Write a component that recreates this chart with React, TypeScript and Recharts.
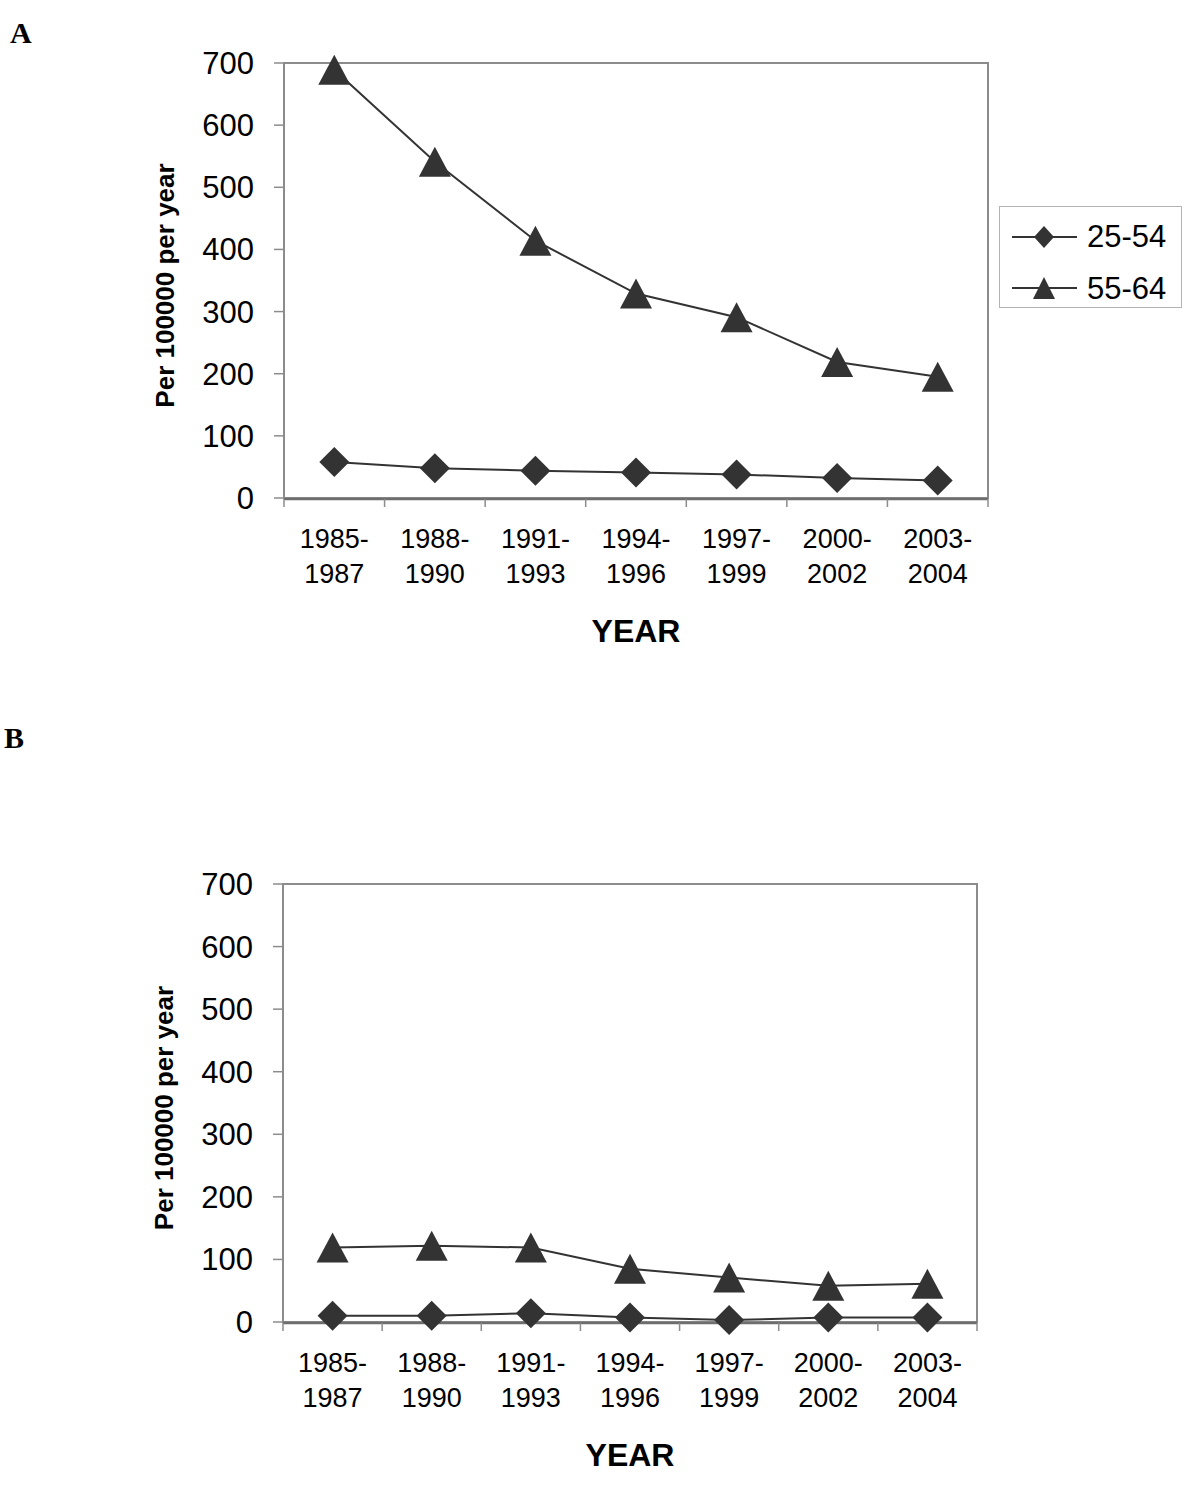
import React from "react";
import {
  LineChart,
  Line,
  XAxis,
  YAxis,
  Legend,
  ReferenceArea,
} from "recharts";

const periods = [
  "1985-1987",
  "1988-1990",
  "1991-1993",
  "1994-1996",
  "1997-1999",
  "2000-2002",
  "2003-2004",
];

const seriesNames = ["25-54", "55-64"];
const yTicks = [0, 100, 200, 300, 400, 500, 600, 700];
const edgeTicks = [0, 1, 2, 3, 4, 5, 6, 7];

// panel A
const a2554 = [58, 48, 44, 41, 38, 32, 28];
const a5564 = [689, 541, 414, 329, 291, 219, 195];

// panel B
const b2554 = [10, 10, 14, 7, 3, 7, 7];
const b5564 = [119, 122, 119, 85, 71, 58, 61];

const FONT = '"Liberation Sans", Arial, sans-serif';
const INK = "#333333";
const FRAME = "#8c8c8c";

function buildRows(young: number[], old: number[]) {
  return periods.map((p, i) => ({ period: p, young: young[i], old: old[i] }));
}

// slot centre of a row on the 0..7 edge axis
const slotOf = (row: { period: string }) => periods.indexOf(row.period) + 0.5;

function DiamondDot(props: any) {
  const { cx, cy } = props;
  if (cx == null || cy == null) return null;
  return (
    <polygon
      points={`${cx},${cy - 15} ${cx + 15},${cy} ${cx},${cy + 15} ${cx - 15},${cy}`}
      fill={INK}
    />
  );
}

function TriangleDot(props: any) {
  const { cx, cy } = props;
  if (cx == null || cy == null) return null;
  return (
    <polygon
      points={`${cx},${cy - 15} ${cx + 16},${cy + 15} ${cx - 16},${cy + 15}`}
      fill={INK}
    />
  );
}

function BlankTick() {
  return <g />;
}

function PeriodTick(props: any) {
  const { x, y, payload } = props;
  const [from, to] = String(payload.value).split("-");
  return (
    <text x={x} y={y} textAnchor="middle" fontFamily={FONT} fontSize={27} fill="#000">
      <tspan x={x} dy={50}>{from + "-"}</tspan>
      <tspan x={x} dy={35}>{to}</tspan>
    </text>
  );
}

function YTitle(props: any) {
  const { viewBox } = props;
  const x = viewBox.x + 20;
  const y = viewBox.y + viewBox.height / 2 + 5;
  return (
    <text
      x={x}
      y={y}
      transform={`rotate(-90 ${x} ${y})`}
      textAnchor="middle"
      fontFamily={FONT}
      fontWeight="bold"
      fontSize={26}
      fill="#000"
    >
      Per 100000 per year
    </text>
  );
}

function XTitle(props: any) {
  const { viewBox } = props;
  return (
    <text
      x={viewBox.x + viewBox.width / 2}
      y={viewBox.y + 144}
      textAnchor="middle"
      fontFamily={FONT}
      fontWeight="bold"
      fontSize={32}
      fill="#000"
    >
      YEAR
    </text>
  );
}

function LegendBox() {
  return (
    <div
      style={{
        width: 183,
        height: 102,
        border: "1px solid #b4b4b4",
        background: "#fff",
        boxSizing: "border-box",
      }}
    >
      <svg width={183} height={102}>
        <line x1={12} x2={77} y1={30} y2={30} stroke={INK} strokeWidth={2} />
        <polygon points="44,19 54,30 44,41 34,30" fill={INK} />
        <text x={87} y={40} fontFamily={FONT} fontSize={31} fill="#000">
          {seriesNames[0]}
        </text>
        <line x1={12} x2={77} y1={81} y2={81} stroke={INK} strokeWidth={2} />
        <polygon points="44,70 55,92 33,92" fill={INK} />
        <text x={87} y={92} fontFamily={FONT} fontSize={31} fill="#000">
          {seriesNames[1]}
        </text>
      </svg>
    </div>
  );
}

interface PanelProps {
  young: number[];
  old: number[];
  top: number;
  plotWidth: number;
  margin: { top: number; right: number; bottom: number; left: number };
  withLegend?: boolean;
}

function Panel({ young, old, top, plotWidth, margin, withLegend }: PanelProps) {
  const rows = buildRows(young, old);
  const pad = plotWidth / 14;
  return (
    <div style={{ position: "absolute", left: 0, top }}>
      <LineChart width={1200} height={700} data={rows} margin={margin}>
        <ReferenceArea
          xAxisId="edges"
          x1={0}
          x2={7}
          y1={0}
          y2={700}
          fill="none"
          stroke={FRAME}
          strokeWidth={2}
          ifOverflow="visible"
        />
        <XAxis
          dataKey="period"
          interval={0}
          height={1}
          padding={{ left: pad, right: pad }}
          tick={<PeriodTick />}
          tickLine={false}
          axisLine={false}
          tickSize={0}
          tickMargin={0}
          label={<XTitle />}
        />
        <XAxis
          xAxisId="edges"
          dataKey={slotOf}
          type="number"
          domain={[0, 7]}
          ticks={edgeTicks}
          interval={0}
          allowDataOverflow
          height={1}
          tick={<BlankTick />}
          tickSize={8}
          tickLine={{ stroke: FRAME, strokeWidth: 1.5 }}
          axisLine={{ stroke: "#6e6e6e", strokeWidth: 2.5 }}
        />
        <YAxis
          domain={[0, 700]}
          ticks={yTicks}
          width={130}
          tickSize={10}
          tickMargin={20}
          tick={{ fontFamily: FONT, fontSize: 31, fill: "#000" }}
          tickLine={{ stroke: FRAME, strokeWidth: 1.5 }}
          axisLine={{ stroke: FRAME, strokeWidth: 2 }}
          label={<YTitle />}
        />
        {withLegend && (
          <Legend
            layout="horizontal"
            verticalAlign="middle"
            content={() => <LegendBox />}
            wrapperStyle={{ left: 999, top: 206, width: 183 }}
          />
        )}
        <Line
          dataKey="young"
          name={seriesNames[0]}
          stroke={INK}
          strokeWidth={2}
          dot={<DiamondDot />}
          activeDot={false}
          isAnimationActive={false}
        />
        <Line
          dataKey="old"
          name={seriesNames[1]}
          stroke={INK}
          strokeWidth={2}
          dot={<TriangleDot />}
          activeDot={false}
          isAnimationActive={false}
        />
      </LineChart>
    </div>
  );
}

export default function App() {
  return (
    <div
      style={{
        position: "relative",
        width: 1200,
        height: 1486,
        background: "#fff",
        overflow: "hidden",
      }}
    >
      <style>{"body{margin:0;}"}</style>
      <div
        style={{
          position: "absolute",
          left: 10,
          top: 16,
          fontFamily: '"Liberation Serif", "Times New Roman", serif',
          fontWeight: "bold",
          fontSize: 30,
        }}
      >
        A
      </div>
      <div
        style={{
          position: "absolute",
          left: 4,
          top: 721,
          fontFamily: '"Liberation Serif", "Times New Roman", serif',
          fontWeight: "bold",
          fontSize: 30,
        }}
      >
        B
      </div>
      <Panel
        young={a2554}
        old={a5564}
        top={0}
        plotWidth={704}
        margin={{ top: 63, right: 212, bottom: 200, left: 154 }}
        withLegend
      />
      <Panel
        young={b2554}
        old={b5564}
        top={820}
        plotWidth={694}
        margin={{ top: 64, right: 223, bottom: 196, left: 153 }}
      />
    </div>
  );
}
